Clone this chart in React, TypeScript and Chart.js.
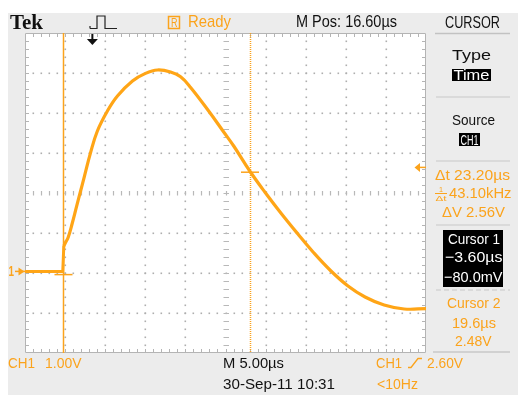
import { useEffect, useRef } from "react";
import { Chart, registerables } from "chart.js";

Chart.register(...registerables);

// ---- data (time in µs, volts) ----
// baseline and step at cursor 1
const stepTimeUs = [-8.4, -3.69, -3.56];
const stepVolts = [0.0, 0.0, 0.64];
// main pulse
const timeUs = [-3.56, -3.375, -3.0, -2.5, -2.0, -1.5, -1.0, -0.25, 0.625, 1.875, 3.125, 5.0, 6.625, 8.125, 9.75, 11.0, 12.25, 14.5, 16.375, 17.625, 19.625, 21.5, 23.5, 25.625, 27.625, 29.75, 31.875, 34.0, 36.375, 38.875, 41.6];
const volts = [0.635, 0.71, 0.86, 1.21, 1.6, 1.985, 2.37, 2.95, 3.51, 4.01, 4.385, 4.76, 4.95, 5.035, 4.985, 4.865, 4.6, 4.01, 3.485, 3.135, 2.51, 1.985, 1.46, 0.935, 0.46, 0.01, -0.365, -0.64, -0.84, -0.94, -0.93];

const cursorTimes = [-3.6, 19.6];
const cursorVolts = [-0.08, 2.48];
const triggerTime = 0;
const triggerLevel = 2.6;
const timeRange = [-8.4, 41.6];
const voltRange = [-2.04, 5.96];
const timePerDiv = 5;
const voltPerDiv = 1;

const headerTexts = ["Tek", "Ready", "M Pos: 16.60µs", "CURSOR"];
const panelTexts = ["Type", "Time", "Source", "CH1", "Δt 23.20µs", "43.10kHz", "ΔV 2.56V"];
const cursor1Texts = ["Cursor 1", "−3.60µs", "−80.0mV"];
const cursor2Texts = ["Cursor 2", "19.6µs", "2.48V"];
const footerTexts = ["CH1", "1.00V", "M 5.00µs", "CH1", "2.60V", "30-Sep-11 10:31", "<10Hz"];

const ORANGE = "#fba31c";
const TRACE = "#ffa516";
const FRAME = "#ececec";
const GRID = "#aeaeae";
const SANS = '"Liberation Sans", Arial, sans-serif';

function fit(ctx: CanvasRenderingContext2D, text: string, x0: number, x1: number, base: number, size: number, color: string, font = SANS, weight = "") {
  ctx.save();
  ctx.font = `${weight} ${size}px ${font}`;
  ctx.textAlign = "left";
  ctx.textBaseline = "alphabetic";
  const w = ctx.measureText(text).width || 1;
  ctx.translate(x0, base);
  ctx.scale((x1 - x0) / w, 1);
  ctx.fillStyle = color;
  ctx.fillText(text, 0, 0);
  ctx.restore();
}

function hline(ctx: CanvasRenderingContext2D, x0: number, x1: number, y: number, color: string, w = 1) {
  ctx.strokeStyle = color;
  ctx.lineWidth = w;
  ctx.beginPath();
  ctx.moveTo(x0, y);
  ctx.lineTo(x1, y);
  ctx.stroke();
}

const scopePlugin = {
  id: "scope",
  beforeDraw(chart: any) {
    const { ctx, chartArea: a, scales } = chart;
    const xs = scales.x, ys = scales.y;
    ctx.save();
    ctx.fillStyle = "#ffffff";
    ctx.fillRect(0, 0, chart.width, chart.height);
    ctx.fillStyle = FRAME;
    ctx.fillRect(8, 13, chart.width - 8, 382);
    ctx.fillStyle = "#ffffff";
    ctx.fillRect(a.left, a.top, a.right - a.left, a.bottom - a.top);

    const nx = Math.round((timeRange[1] - timeRange[0]) / timePerDiv);
    const ny = Math.round((voltRange[1] - voltRange[0]) / voltPerDiv);
    const gxs: number[] = [];
    for (let i = 0; i <= nx; i++) gxs.push(Math.round(xs.getPixelForValue(timeRange[0] + i * timePerDiv)));
    const gys: number[] = [];
    for (let j = 0; j <= ny; j++) gys.push(Math.round(ys.getPixelForValue(voltRange[0] + j * voltPerDiv)));
    const stepX = (a.right - a.left) / (nx * 5);
    const stepY = (a.bottom - a.top) / (ny * 5);
    const cxI = nx / 2, cyI = ny / 2;

    ctx.fillStyle = GRID;
    for (let i = 1; i < nx; i++) {
      if (i === cxI) continue;
      for (let k = 1; k < ny * 5; k++) {
        ctx.fillRect(gxs[i] - 0.5, Math.round(a.top + k * stepY) - 0.5, 1.6, 1.6);
      }
    }
    for (let j = 1; j < ny; j++) {
      if (j === cyI) continue;
      for (let k = 1; k < nx * 5; k++) {
        ctx.fillRect(Math.round(a.left + k * stepX) - 0.5, gys[j] - 0.5, 1.6, 1.6);
      }
    }
    // centre cross ticks
    ctx.strokeStyle = "#b8b8b8";
    ctx.lineWidth = 1.2;
    const cx = gxs[cxI], cy = gys[cyI];
    ctx.beginPath();
    for (let k = 1; k < ny * 5; k++) {
      const yy = Math.round(a.top + k * stepY) + 0.5;
      ctx.moveTo(cx - 2.5, yy);
      ctx.lineTo(cx + 3, yy);
    }
    for (let k = 1; k < nx * 5; k++) {
      const xx = Math.round(a.left + k * stepX) + 0.5;
      ctx.moveTo(xx, cy - 2);
      ctx.lineTo(xx, cy + 2.5);
    }
    ctx.stroke();
    // border with ticks
    ctx.strokeStyle = "#b4b4b4";
    ctx.lineWidth = 1;
    ctx.beginPath();
    ctx.rect(a.left + 0.5, a.top + 0.5, a.right - a.left - 1, a.bottom - a.top - 1);
    for (let k = 1; k < nx * 5; k++) {
      const xx = Math.round(a.left + k * stepX) + 0.5;
      ctx.moveTo(xx, a.top); ctx.lineTo(xx, a.top + 4);
      ctx.moveTo(xx, a.bottom); ctx.lineTo(xx, a.bottom - 4);
    }
    for (let k = 1; k < ny * 5; k++) {
      const yy = Math.round(a.top + k * stepY) + 0.5;
      ctx.moveTo(a.left, yy); ctx.lineTo(a.left + 4, yy);
      ctx.moveTo(a.right, yy); ctx.lineTo(a.right - 4, yy);
    }
    ctx.stroke();

    // cursors
    const c1x = Math.round(xs.getPixelForValue(cursorTimes[0])) + 0.5;
    const c2x = Math.round(xs.getPixelForValue(cursorTimes[1]));
    ctx.strokeStyle = ORANGE;
    ctx.lineWidth = 1.5;
    ctx.beginPath();
    ctx.moveTo(c1x, a.top);
    ctx.lineTo(c1x, a.bottom);
    ctx.stroke();
    ctx.fillStyle = ORANGE;
    for (let yy = a.top; yy < a.bottom; yy += 2) ctx.fillRect(c2x - 0.25, yy, 1.5, 1);
    const c1y = ys.getPixelForValue(cursorVolts[0]);
    const c2y = ys.getPixelForValue(cursorVolts[1]);
    hline(ctx, c1x - 9, c1x + 9, c1y, ORANGE, 1.5);
    hline(ctx, c2x - 9, c2x + 9, c2y, ORANGE, 1.5);
    ctx.restore();
  },
  afterDraw(chart: any) {
    const { ctx, chartArea: a, scales } = chart;
    const xs = scales.x, ys = scales.y;
    ctx.save();
    // header
    fit(ctx, headerTexts[0], 10, 43, 29, 21, "#111", '"Liberation Serif", serif', "bold");
    ctx.strokeStyle = "#222";
    ctx.lineWidth = 1.2;
    ctx.beginPath();
    ctx.moveTo(90, 28.5); ctx.lineTo(97, 28.5); ctx.lineTo(97, 16); ctx.lineTo(105, 16); ctx.lineTo(105, 28.5); ctx.lineTo(117, 28.5);
    ctx.moveTo(90, 28.5); ctx.lineTo(90, 26);
    ctx.stroke();
    ctx.strokeStyle = ORANGE;
    ctx.lineWidth = 1.5;
    ctx.strokeRect(168.5, 16.5, 11, 12);
    fit(ctx, "R", 171, 177.5, 26.5, 12, ORANGE);
    fit(ctx, headerTexts[1], 188, 231, 27, 17, ORANGE);
    fit(ctx, headerTexts[2], 296, 397, 27, 17, "#111");
    fit(ctx, headerTexts[3], 445, 500, 28, 17, "#111");
    hline(ctx, 435, 510, 33.5, "#c2c2c2", 1.5);

    // trigger position arrow
    const tx = xs.getPixelForValue(triggerTime);
    ctx.fillStyle = "#111";
    ctx.fillRect(tx - 1, a.top + 1, 2, 6);
    ctx.beginPath();
    ctx.moveTo(tx - 5.5, a.top + 6); ctx.lineTo(tx + 5.5, a.top + 6); ctx.lineTo(tx, a.top + 12); ctx.closePath();
    ctx.fill();

    // ground marker
    const gy = ys.getPixelForValue(0);
    fit(ctx, "1", 8.5, 14, gy + 5, 15, ORANGE, SANS, "bold");
    ctx.fillStyle = ORANGE;
    ctx.fillRect(15, gy - 0.75, a.left - 15, 1.5);
    ctx.beginPath();
    ctx.moveTo(18.5, gy - 4); ctx.lineTo(24.5, gy); ctx.lineTo(18.5, gy + 4); ctx.closePath();
    ctx.fill();

    // trigger level marker
    const ty = ys.getPixelForValue(triggerLevel);
    ctx.fillRect(419, ty - 0.75, a.right - 419, 1.5);
    ctx.beginPath();
    ctx.moveTo(414.5, ty); ctx.lineTo(420, ty - 4.5); ctx.lineTo(420, ty + 4.5); ctx.closePath();
    ctx.fill();

    // right panel
    fit(ctx, panelTexts[0], 452, 491, 60, 15, "#111");
    ctx.fillStyle = "#000";
    ctx.fillRect(452, 69, 39, 12);
    fit(ctx, panelTexts[1], 453.5, 489.5, 79.5, 14, "#fff");
    hline(ctx, 436, 510, 97, "#c8c8c8", 1);
    fit(ctx, panelTexts[2], 452, 495, 125, 15, "#111");
    ctx.fillStyle = "#000";
    ctx.fillRect(459, 133, 21, 13);
    fit(ctx, panelTexts[3], 460.5, 478.5, 144.5, 14, "#fff");
    hline(ctx, 436, 510, 161, "#c8c8c8", 1);
    fit(ctx, panelTexts[4], 435, 510, 180, 15, ORANGE);
    fit(ctx, "1", 439, 443, 192, 7, ORANGE);
    hline(ctx, 435, 447, 193.5, ORANGE, 1);
    fit(ctx, "Δt", 435.5, 446.5, 200.5, 8, ORANGE);
    fit(ctx, panelTexts[5], 449, 511.5, 198, 15, ORANGE);
    fit(ctx, panelTexts[6], 442, 505, 217, 15, ORANGE);
    hline(ctx, 436, 510, 225, "#c8c8c8", 1);

    ctx.fillStyle = "#000";
    ctx.fillRect(443, 230, 60, 57);
    fit(ctx, cursor1Texts[0], 448, 500, 244, 15, "#fff");
    fit(ctx, cursor1Texts[1], 445, 502.5, 261.5, 15, "#fff");
    fit(ctx, cursor1Texts[2], 444, 502.5, 281.5, 15, "#fff");
    ctx.save();
    ctx.setLineDash([5, 3]);
    hline(ctx, 436, 510, 290, "#c8c8c8", 1);
    ctx.restore();
    fit(ctx, cursor2Texts[0], 447, 500.5, 308, 15, ORANGE);
    fit(ctx, cursor2Texts[1], 452, 496, 327.5, 15, ORANGE);
    fit(ctx, cursor2Texts[2], 455, 491.5, 345.5, 15, ORANGE);
    hline(ctx, 433, 510, 352, "#c8c8c8", 1.5);

    // footer
    fit(ctx, footerTexts[0], 8, 35, 368, 15, ORANGE);
    fit(ctx, footerTexts[1], 45, 81.5, 368, 15, ORANGE);
    fit(ctx, footerTexts[2], 223, 284, 368, 15, "#111");
    fit(ctx, footerTexts[3], 376, 402, 368, 15, ORANGE);
    ctx.strokeStyle = ORANGE;
    ctx.lineWidth = 1.3;
    ctx.beginPath();
    ctx.moveTo(408, 367.5); ctx.lineTo(411, 367.5); ctx.lineTo(418, 358.5); ctx.lineTo(422, 358.5);
    ctx.stroke();
    fit(ctx, footerTexts[4], 427, 463, 368, 15, ORANGE);
    fit(ctx, footerTexts[5], 223, 335, 389, 15, "#111");
    fit(ctx, footerTexts[6], 377, 418, 389, 15, ORANGE);
    ctx.restore();
  },
};

export default function App() {
  const ref = useRef<HTMLCanvasElement | null>(null);
  useEffect(() => {
    if (!ref.current) return;
    const stepPts = stepTimeUs.map((t, i) => ({ x: t, y: stepVolts[i] }));
    const pulsePts = timeUs.map((t, i) => ({ x: t, y: volts[i] }));
    const chart = new Chart(ref.current, {
      type: "line",
      data: {
        datasets: [
          { data: stepPts, borderColor: TRACE, borderWidth: 3, pointRadius: 0, tension: 0, fill: false },
          { data: pulsePts, borderColor: TRACE, borderWidth: 3.2, pointRadius: 0, tension: 0.4, fill: false },
        ],
      },
      options: {
        responsive: false,
        animation: false,
        devicePixelRatio: 1,
        layout: { padding: { left: 25, top: 33, right: 92, bottom: 44 } },
        plugins: { legend: { display: false }, tooltip: { enabled: false } },
        events: [],
        scales: {
          x: { type: "linear", min: timeRange[0], max: timeRange[1], display: false },
          y: { type: "linear", min: voltRange[0], max: voltRange[1], display: false },
        },
      },
      plugins: [scopePlugin],
    } as any);
    return () => chart.destroy();
  }, []);
  return (
    <div style={{ position: "fixed", left: 0, top: 0, width: 518, height: 397 }}>
      <canvas ref={ref} width={518} height={397} style={{ display: "block", width: 518, height: 397 }} />
    </div>
  );
}
